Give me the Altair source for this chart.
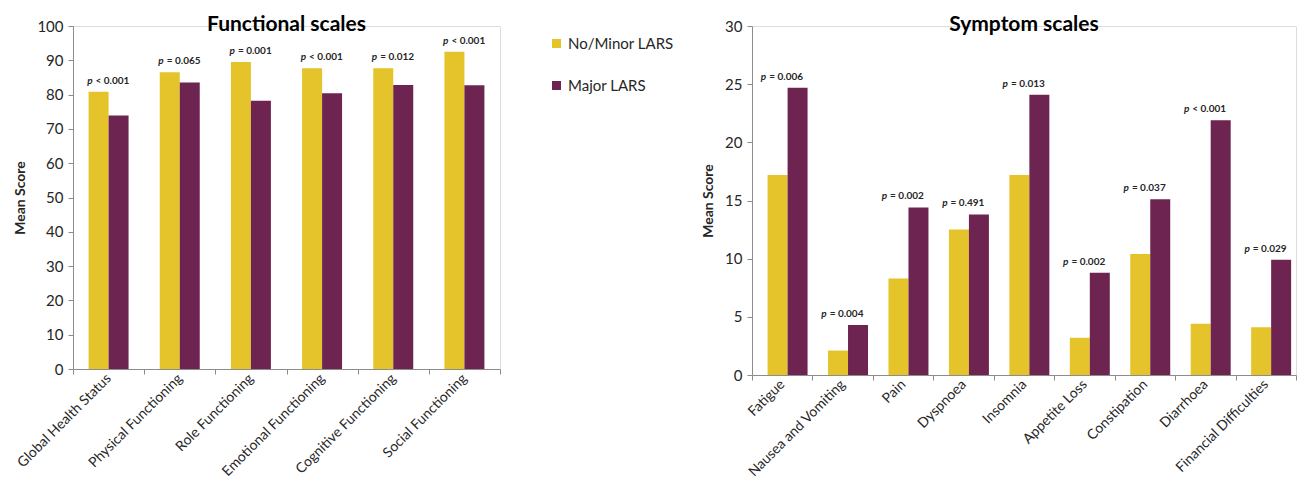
import altair as alt
import pandas as pd

groups = ["No/Minor LARS", "Major LARS"]
colors = ["#E5C32A", "#6D2451"]

func_cats = ["Global Health Status", "Physical Functioning", "Role Functioning",
             "Emotional Functioning", "Cognitive Functioning", "Social Functioning"]
func_minor = [80.8, 86.5, 89.5, 87.7, 87.7, 92.5]
func_major = [73.9, 83.5, 78.2, 80.4, 82.8, 82.7]
func_p = ["< 0.001", "= 0.065", "= 0.001", "< 0.001", "= 0.012", "< 0.001"]

sym_cats = ["Fatigue", "Nausea and Vomiting", "Pain", "Dyspnoea", "Insomnia",
            "Appetite Loss", "Constipation", "Diarrhoea", "Financial Difficulties"]
sym_minor = [17.2, 2.1, 8.3, 12.5, 17.2, 3.2, 10.4, 4.4, 4.1]
sym_major = [24.7, 4.3, 14.4, 13.8, 24.1, 8.8, 15.1, 21.9, 9.9]
sym_p = ["= 0.006", "= 0.004", "= 0.002", "= 0.491", "= 0.013", "= 0.002", "= 0.037", "< 0.001", "= 0.029"]

FONT = "Lato"
TXT = "#262626"
AX = "#8c8c8c"


def panel(title, cats, minor, major, pvals, ymax, ystep, width, height, off_pad, legend):
    n = len(cats)
    long = pd.DataFrame({
        "cat": cats * 2,
        "grp": [groups[0]] * n + [groups[1]] * n,
        "val": minor + major,
    })
    lab = pd.DataFrame({
        "cat": cats,
        "val": [max(a, b) for a, b in zip(minor, major)],
        "p": pvals,
    })
    x = alt.X("cat:N", sort=cats, title=None,
              scale=alt.Scale(paddingInner=0, paddingOuter=0),
              axis=alt.Axis(labelAngle=-45, labelAlign="right", labelBaseline="middle",
                            tickBand="extent", labelFontSize=14, labelFont=FONT,
                            labelColor=TXT, domainColor=AX, tickColor=AX, tickSize=5,
                            labelPadding=2, labelLimit=300))
    y = alt.Y("val:Q", title="Mean Score",
              scale=alt.Scale(domain=[0, ymax], nice=False),
              axis=alt.Axis(values=list(range(0, ymax + 1, ystep)), grid=False,
                            labelOverlap=False,
                            labelFontSize=15, labelFont=FONT, labelColor=TXT,
                            domainColor=AX, tickColor=AX, tickSize=5, labelPadding=5,
                            titleFont=FONT, titleFontSize=14, titleFontWeight="bold",
                            titleColor=TXT, titlePadding=9))
    if legend:
        leg = alt.Legend(title=None, orient="none", legendX=476, legendY=10,
                         symbolType="square", symbolSize=81,
                         symbolStrokeWidth=0, labelFontSize=15,
                         labelFont=FONT, labelColor=TXT, rowPadding=26,
                         labelOffset=4)
        color = alt.Color("grp:N", sort=groups,
                          scale=alt.Scale(domain=groups, range=colors), legend=leg)
    else:
        color = alt.Color("grp:N", sort=groups,
                          scale=alt.Scale(domain=groups, range=colors))
    bars = alt.Chart(long).mark_bar().encode(
        x=x, y=y, color=color,
        xOffset=alt.XOffset("grp:N", sort=groups,
                            scale=alt.Scale(paddingInner=0, paddingOuter=off_pad)),
    )
    ptxt = alt.Chart(lab).mark_text(font=FONT, fontSize=10, fontWeight="bold",
                                    align="left", baseline="bottom", dx=-13, dy=-6,
                                    color=TXT).encode(x=x, y=y, text="p:N")
    pl = alt.Chart(lab).mark_text(font=FONT, fontSize=10, fontWeight="bold",
                                  fontStyle="italic", align="right", baseline="bottom",
                                  dx=-16, dy=-6, color=TXT, text="p").encode(x=x, y=y)
    return alt.layer(bars, ptxt, pl).properties(
        width=width, height=height,
        title=alt.TitleParams(title, font=FONT, fontSize=21, fontWeight="bold",
                              color="#000000", anchor="middle", offset=-16),
    )


left = panel("Functional scales", func_cats, func_minor, func_major, func_p,
             100, 10, 427, 343, 0.78, True)
right = panel("Symptom scales", sym_cats, sym_minor, sym_major, sym_p,
              30, 5, 544, 349, 0.795, False)

chart = alt.hconcat(left, right, spacing=200).properties(
    padding={"left": 5, "top": 5, "right": 0, "bottom": 0}
).configure_view(strokeWidth=0).configure(font=FONT)

chart.save("out.html", embed_options={"renderer": "svg", "actions": False})
